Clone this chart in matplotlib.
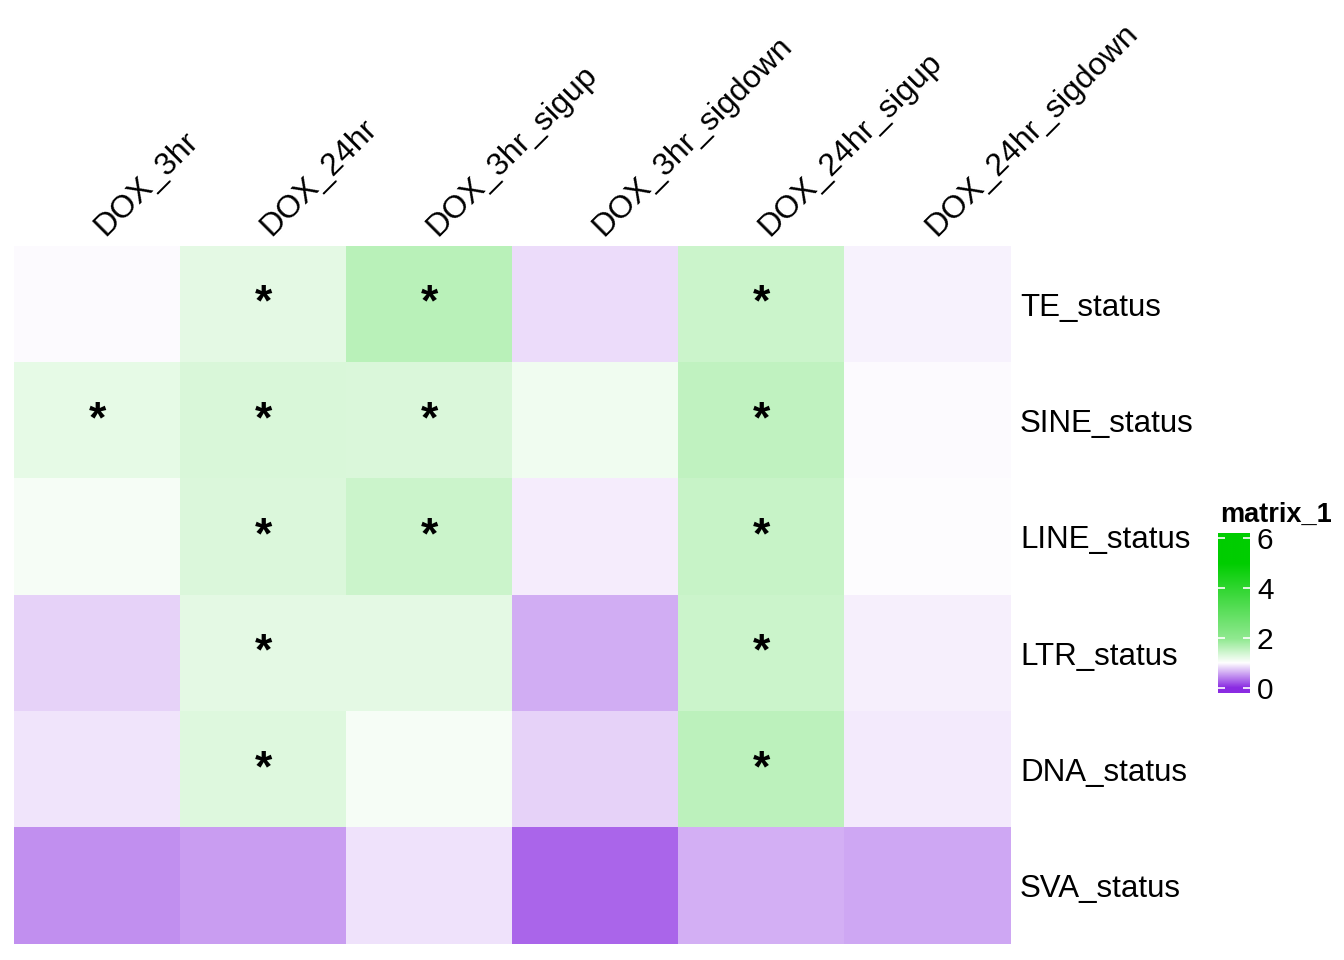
import numpy as np
import matplotlib
matplotlib.use("Agg")
import matplotlib.pyplot as plt
import matplotlib.colors as mcolors

plt.rcParams['font.family'] = ['Liberation Sans', 'DejaVu Sans']

filas = ["TE_status", "SINE_status", "LINE_status", "LTR_status", "DNA_status", "SVA_status"]
columnas = ["DOX_3hr", "DOX_24hr", "DOX_3hr_sigup", "DOX_3hr_sigdown", "DOX_24hr_sigup", "DOX_24hr_sigdown"]

# valores por fila (mismo orden que columnas)
te = [0.976, 1.233, 1.605, 0.849, 1.449, 0.939]
sine = [1.216, 1.337, 1.320, 1.130, 1.544, 0.981]
line = [1.078, 1.302, 1.440, 0.920, 1.475, 0.995]
ltr = [0.792, 1.233, 1.233, 0.618, 1.440, 0.929]
dna = [0.882, 1.285, 1.086, 0.788, 1.579, 0.910]
sva = [0.476, 0.538, 0.873, 0.278, 0.637, 0.590]

# significancia
sig_te = ["", "*", "*", "", "*", ""]
sig_sine = ["*", "*", "*", "", "*", ""]
sig_line = ["", "*", "*", "", "*", ""]
sig_ltr = ["", "*", "", "", "*", ""]
sig_dna = ["", "*", "", "", "*", ""]
sig_sva = ["", "", "", "", "", ""]

# escala de color
quiebres = [0, 1, 1.95, 5, 6.2]
colores = ["#8A2BE2", "#FFFFFF", "#91E991", "#00CD00", "#00CD00"]
ticks_leyenda = [0, 2, 4, 6]

vmin, vmax = -0.2, 6.2
nodos = [((q - vmin) / (vmax - vmin), c) for q, c in zip(quiebres, colores)]
nodos = [(0.0, colores[0])] + nodos
cmap = mcolors.LinearSegmentedColormap.from_list("morado_verde", nodos, N=512)
norma = mcolors.Normalize(vmin=vmin, vmax=vmax)

matriz = np.array([te, sine, line, ltr, dna, sva])
estrellas = [sig_te, sig_sine, sig_line, sig_ltr, sig_dna, sig_sva]

W, H = 1344, 960
fig = plt.figure(figsize=(W / 100, H / 100), dpi=100)
ax = fig.add_axes([14 / W, 16 / H, 997 / W, 698 / H])
ax.imshow(matriz, cmap=cmap, norm=norma, aspect='auto', interpolation='nearest')
ax.set_xlim(-0.5, len(columnas) - 0.5)
ax.set_ylim(len(filas) - 0.5, -0.5)
ax.axis('off')

for i in range(len(filas)):
    for j in range(len(columnas)):
        if estrellas[i][j]:
            ax.text(j, i, estrellas[i][j], ha='center', va='center', fontsize=32,
                    fontweight='bold', color='black')

for j, nombre in enumerate(columnas):
    ax.annotate(nombre, xy=(j, -0.5), xytext=(5.8, 6.5), textcoords='offset points',
                rotation=45, rotation_mode='anchor', ha='left', va='baseline', fontsize=23)

for i, nombre in enumerate(filas):
    ax.annotate(nombre, xy=(len(columnas) - 0.5, i), xytext=(6.5, -2.5), textcoords='offset points',
                ha='left', va='center', fontsize=22.5)

# leyenda
cax = fig.add_axes([1218 / W, (H - 692.7) / H, 32 / W, 160 / H])
grad = np.linspace(vmin, vmax, 400).reshape(-1, 1)
cax.imshow(grad, cmap=cmap, norm=norma, aspect='auto', origin='lower',
           extent=[0, 1, vmin, vmax], interpolation='bilinear')
cax.set_xlim(0, 1)
cax.set_ylim(vmin, vmax)
cax.set_xticks([])
cax.set_yticks(ticks_leyenda)
cax.set_yticklabels([str(t) for t in ticks_leyenda], fontsize=21.5)
cax.tick_params(axis='y', direction='in', color='white', length=5, width=1.2,
                left=True, right=True, labelleft=False, labelright=True, pad=5)
for s in cax.spines.values():
    s.set_visible(False)
fig.text(1220 / W, 1 - 522 / H, "matrix_1", fontsize=19.5, fontweight='bold', va='baseline')

fig.savefig("out.png", dpi=100)
